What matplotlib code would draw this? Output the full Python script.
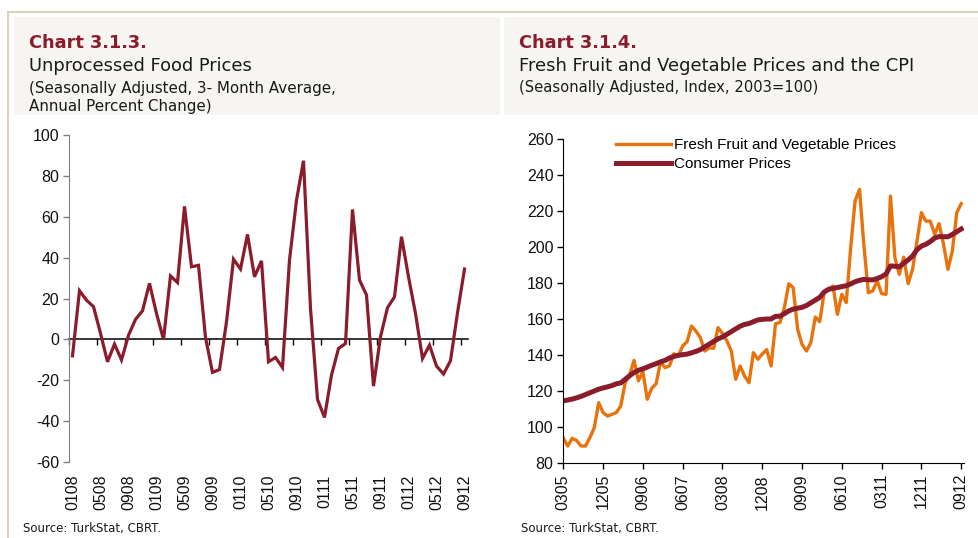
import matplotlib
matplotlib.use("Agg")
import matplotlib.pyplot as plt
from matplotlib.patches import Rectangle
from matplotlib.lines import Line2D

plt.rcParams["axes.unicode_minus"] = False

# Chart 3.1.3 - unprocessed food prices, annual % change, monthly 01/08 .. 09/12
food_labels = ["0108", "0508", "0908", "0109", "0509", "0909", "0110", "0510",
               "0910", "0111", "0511", "0911", "0112", "0512", "0912"]
food_change = [-8, 23.8, 19.2, 16, 3, -10.9, -2.3, -10, 2, 9.8, 14, 27.4, 12.7, 0,
               31, 27.8, 65, 35.5, 36.2, 1, -16.1, -14.7, 8.6, 39.2, 34.4, 51.3,
               30.6, 38.4, -10.9, -8.8, -13.7, 38.8, 68, 87.3, 15.1, -29.3, -38.1,
               -17.4, -4.4, -2, 63.5, 29, 21.7, -22.8, 1.3, 15.5, 20.8, 50.2, 30.6,
               12.7, -9.3, -2.8, -13, -16.9, -10.4, 13, 34.4]

# Chart 3.1.4 - index 2003=100, monthly 03/05 .. 09/12
ffv_labels = ["0305", "1205", "0906", "0607", "0308", "1208", "0909", "0610",
              "0311", "1211", "0912"]
ffv_prices = [94, 89.4, 93.7, 92.5, 89.5, 89.4, 94, 99.6, 113.5, 108, 106.1, 107,
              108, 111.7, 124.6, 128.9, 137, 125.6, 130.7, 115.4, 121.5, 124, 136.3,
              133, 133.9, 140.7, 139.4, 145, 147.4, 156.1, 153.3, 149.6, 142.2, 144,
              143.7, 155.2, 151.9, 147.8, 142.2, 126.5, 133.9, 128.3, 124.6, 141.3,
              137.6, 140.5, 143, 133.9, 157.4, 158, 166.3, 179.6, 177.4, 154.3, 145.9,
              142.2, 146.9, 161.1, 158.5, 174.6, 176.5, 178.3, 162.6, 173.7, 169.1,
              199.6, 225.6, 232, 200.6, 174.6, 175.6, 181.1, 174.1, 173.7, 228.3,
              194.1, 184.8, 194.4, 179.6, 187.6, 203.3, 219.1, 214.4, 214.4, 207, 213,
              201.5, 187.6, 197.8, 219.1, 224.1]
cpi = [114.5, 115, 115.5, 116.2, 117, 118, 119, 120, 121, 121.7, 122.3, 123, 124,
       124.5, 126.5, 128.5, 130.3, 131.5, 132.3, 133.3, 134.3, 135.2, 136.2, 137,
       138.3, 139.2, 139.8, 140.2, 140.5, 141.2, 142, 143, 144.5, 146, 147.5, 149,
       150, 151.5, 153, 154.5, 156, 157, 157.5, 158.5, 159.5, 159.8, 160, 160,
       161.5, 161.5, 163, 164.5, 165.5, 166, 166.5, 167.5, 169, 170.5, 172, 175,
       176.5, 177, 177.5, 178, 178.5, 179.5, 180.7, 181.5, 182, 181.8, 181.7, 182.5,
       183.5, 185, 189.5, 189.3, 189, 191, 192.8, 195, 198.5, 200.5, 201.5, 203,
       205, 205.8, 205.7, 205.7, 207, 208.5, 210]

W, H = 979, 538
dark_red = "#8A1C2C"
orange = "#E8730C"
tan = "#D9C9AE"
panel_grey = "#F6F5F1"
title_font = "DejaVu Sans"
tick_font = "Liberation Sans"
txt_col = "#1a1a1a"

fig = plt.figure(figsize=(W / 100, H / 100), dpi=100)


def px(x, y):
    return x / W, 1 - y / H


# frame lines and grey title boxes
fig.add_artist(Line2D([8 / W, 1], [1 - 12 / H] * 2, color=tan, lw=1.2))
fig.add_artist(Line2D([8 / W] * 2, [0, 1 - 12 / H], color=tan, lw=1.2))
fig.add_artist(Rectangle(px(14, 115), 486 / W, 98 / H, color=panel_grey, lw=0))
fig.add_artist(Rectangle(px(504, 115), 475 / W, 98 / H, color=panel_grey, lw=0))

# headers
fig.text(*px(29, 47.7), "Chart 3.1.3.", color=dark_red, fontsize=12.8,
         fontweight="bold", family=title_font, va="baseline")
fig.text(*px(29, 71), "Unprocessed Food Prices", fontsize=12.9,
         family=title_font, va="baseline", color=txt_col)
fig.text(*px(29, 92.5), "(Seasonally Adjusted, 3- Month Average,", fontsize=10.9,
         family=title_font, va="baseline", color=txt_col)
fig.text(*px(29, 111.5), "Annual Percent Change)", fontsize=10.9,
         family=title_font, va="baseline", color=txt_col)

fig.text(*px(519, 47.7), "Chart 3.1.4.", color=dark_red, fontsize=12.8,
         fontweight="bold", family=title_font, va="baseline")
fig.text(*px(519, 71), "Fresh Fruit and Vegetable Prices and the CPI", fontsize=12.9,
         family=title_font, va="baseline", color=txt_col)
fig.text(*px(519, 91.7), "(Seasonally Adjusted, Index, 2003=100)", fontsize=10.6,
         family=title_font, va="baseline", color=txt_col)

fig.text(*px(23, 522), "Source: TurkStat, CBRT.", fontsize=8.5,
         family=title_font, va="top", color=txt_col)
fig.text(*px(521, 522), "Source: TurkStat, CBRT.", fontsize=8.5,
         family=title_font, va="top", color=txt_col)

# ---- left chart ----
ax1 = fig.add_axes([69 / W, 1 - 462.3 / H, 399 / W, 327.6 / H])
n1 = len(food_change)
ax1.plot(range(n1), food_change, color=dark_red, lw=2.3, solid_joinstyle="miter")
ax1.set_xlim(-0.5, n1 - 0.5)
ax1.set_ylim(-60, 100)
ax1.set_yticks(range(-60, 101, 20))
ax1.set_xticks(range(0, n1, 4), food_labels, rotation=90)
for s in ["top", "right", "bottom"]:
    ax1.spines[s].set_visible(False)
ax1.spines["left"].set_color("#7f7f7f")
ax1.tick_params(axis="x", length=0, pad=9)
ax1.tick_params(axis="y", length=4, width=1, color="#7f7f7f", pad=3)
zero_axis = ax1.secondary_xaxis(60 / 160)
zero_axis.set_xticks([i - 0.5 for i in range(0, n1, 4)])
zero_axis.tick_params(length=4, width=1, labelbottom=False)
zero_axis.spines["bottom"].set_linewidth(1.1)
for lab in ax1.get_xticklabels() + ax1.get_yticklabels():
    lab.set_fontfamily(tick_font)
    lab.set_fontsize(11.5)
    lab.set_color("#111111")

# ---- right chart ----
ax2 = fig.add_axes([563.3 / W, 1 - 463 / H, 401 / W, 324 / H])
n2 = len(cpi)
ax2.plot(range(n2), ffv_prices, color=orange, lw=2.4, label="Fresh Fruit and Vegetable Prices")
ax2.plot(range(n2), cpi, color=dark_red, lw=3.6, label="Consumer Prices")
ax2.set_xlim(0, n2 - 0.3)
ax2.set_ylim(80, 260)
ax2.set_yticks(range(80, 261, 20))
ax2.set_xticks(range(0, n2, 9), ffv_labels, rotation=90)
for s in ["top", "right"]:
    ax2.spines[s].set_visible(False)
ax2.tick_params(length=4, width=1, pad=3)
ax2.tick_params(axis="x", pad=4)
for lab in ax2.get_xticklabels() + ax2.get_yticklabels():
    lab.set_fontfamily(tick_font)
    lab.set_fontsize(11.5)
    lab.set_color("#111111")
ax2.legend(loc="upper left", bbox_to_anchor=(0.115, 1.022), frameon=False,
           handlelength=3.6, handletextpad=0.2, labelspacing=0.32,
           borderaxespad=0, prop={"family": tick_font, "size": 11})

fig.savefig("out.png", dpi=100)
